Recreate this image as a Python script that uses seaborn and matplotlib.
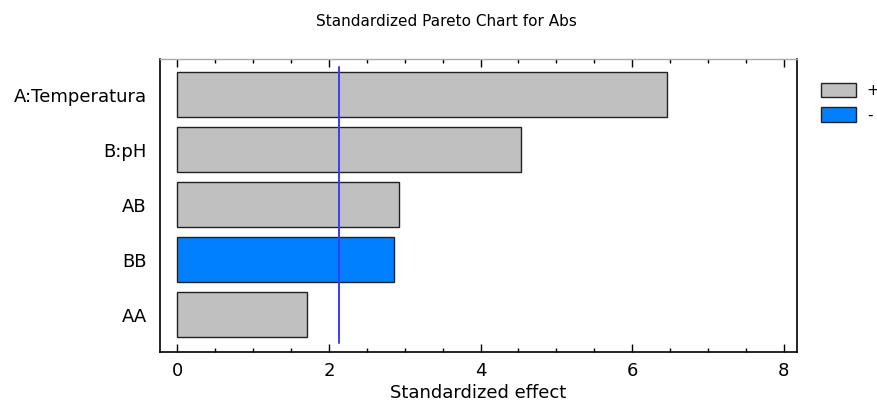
import matplotlib
matplotlib.use("Agg")
import matplotlib.pyplot as plt
import seaborn as sns
import pandas as pd
from matplotlib.ticker import MultipleLocator
from matplotlib.patches import Patch

terms = ["A:Temperatura", "B:pH", "AB", "BB", "AA"]
effects = [6.46, 4.53, 2.93, 2.855, 1.715]
signs = ["+", "+", "+", "-", "+"]
critical_value = 2.135
title = "Standardized Pareto Chart for Abs"
xlabel = "Standardized effect"

sns.set_theme(style="white")
plt.rcParams["font.family"] = ["DejaVu Sans"]
plt.rcParams["text.color"] = "black"
plt.rcParams["axes.labelcolor"] = "black"
plt.rcParams["xtick.color"] = "black"
plt.rcParams["ytick.color"] = "black"

df = pd.DataFrame({"term": terms, "effect": effects, "sign": signs})
palette = {"+": "#C0C0C0", "-": "#0080FF"}

W, H = 878, 409
fig = plt.figure(figsize=(W / 100, H / 100), dpi=100)
ax = fig.add_axes([160 / W, 1 - 352 / H, (797 - 160) / W, (352 - 59) / H])

sns.barplot(data=df, x="effect", y="term", hue="sign", palette=palette,
            dodge=False, width=0.818, orient="h", ax=ax, legend=False,
            edgecolor="#222222", linewidth=1.0, saturation=1)

ax.axvline(critical_value, ymin=(352 - 343) / (352 - 59), ymax=(352 - 67) / (352 - 59),
           color="#3A3AFF", lw=1.4)

ax.set_xlim(-0.228, 8.175)
ax.set_ylim(4.678, -0.649)
ax.xaxis.set_major_locator(MultipleLocator(2))
ax.xaxis.set_minor_locator(MultipleLocator(0.5))
ax.tick_params(axis="x", which="major", direction="in", length=6, width=1,
               top=True, bottom=True, labelsize=13, pad=7, colors="black")
ax.tick_params(axis="x", which="minor", direction="in", length=3, width=1,
               top=True, bottom=True, colors="black")
ax.tick_params(axis="y", length=0, labelsize=13, pad=9.5, colors="black")
for s in ["left", "bottom", "right"]:
    ax.spines[s].set_color("black")
    ax.spines[s].set_linewidth(1.2)
ax.spines["top"].set_color("#AAAAAA")
ax.spines["top"].set_linewidth(1.0)
ax.set_xlabel(xlabel, fontsize=13, labelpad=3, color="black")
ax.set_ylabel("")

fig.text(446 / W, 1 - 21 / H, title, ha="center", va="center", fontsize=11, color="black")

handles = [Patch(facecolor=palette[k], edgecolor="#222222", lw=1.0, label=k) for k in ["+", "-"]]
fig.legend(handles=handles, loc="upper left", bbox_to_anchor=(821 / W, 1 - 82.5 / H),
           frameon=False, fontsize=11, handlelength=2.3, handleheight=1.13,
           labelspacing=0.6, handletextpad=0.7, borderpad=0, borderaxespad=0)

fig.savefig("out.png", dpi=100)
